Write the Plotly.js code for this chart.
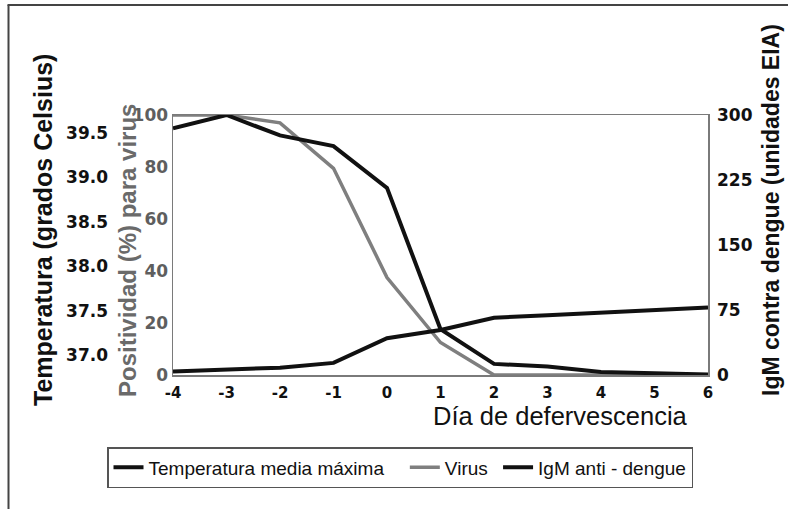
<!DOCTYPE html>
<html>
<head>
<meta charset="utf-8">
<script src="https://cdn.plot.ly/plotly-3.0.1.min.js"></script>
<style>html,body{margin:0;padding:0;background:#fff;}#chart{width:788px;height:509px;}</style>
</head>
<body>
<div id="chart"></div>
<script>
// Data
const dias = [-4, -3, -2, -1, 0, 1, 2, 3, 4, 5, 6];
const temperatura = [39.55, 39.70, 39.47, 39.35, 38.88, 37.29, 36.90, 36.87, 36.81, 36.80, 36.78];
const virus = [100, 100, 97, 79.5, 37.5, 12.5, 0, 0, 0, 0, 0];
const igm = [4, 6.5, 8.5, 14, 42.5, 52, 66, 69, 72, 75, 78];
const tempTicks = [37.0, 37.5, 38.0, 38.5, 39.0, 39.5];
const virusTicks = [0, 20, 40, 60, 80, 100];
const igmTicks = [0, 75, 150, 225, 300];
const nombres = ["Temperatura media máxima", "Virus", "IgM anti - dengue"];

const L = 20, R = 80, T = 115, B = 134, W = 788, H = 509;
const PW = W - L - R, PH = H - T - B;
const px = v => (v - L) / PW;
const py = v => (H - B - v) / PH;
const nb = n => '\u00a0'.repeat(n);

const traces = [
  {x: dias, y: temperatura, name: nombres[0] + nb(3), type: 'scatter', mode: 'lines', yaxis: 'y3',
   line: {color: '#111', width: 4}},
  {x: dias, y: virus, name: nombres[1] + nb(1), type: 'scatter', mode: 'lines', yaxis: 'y',
   line: {color: '#7f7f7f', width: 3.5}},
  {x: dias, y: igm, name: nombres[2], type: 'scatter', mode: 'lines', yaxis: 'y2',
   line: {color: '#111', width: 4}}
];

const axisLine = '#7a7a7a';
const layout = {
  width: W, height: H,
  margin: {l: L, r: R, t: T, b: B},
  paper_bgcolor: '#fff', plot_bgcolor: '#fff',
  showlegend: true,
  font: {family: 'Liberation Sans, Arial, sans-serif', color: '#111'},
  xaxis: {
    domain: [px(173), 1], range: [-4, 6], tickvals: dias, ticktext: dias.map(String),
    showgrid: false, zeroline: false, showline: true, mirror: true, linecolor: axisLine, linewidth: 1.5,
    ticks: '', ticklabelstandoff: 3,
    tickfont: {family: 'DejaVu Sans', size: 15, color: '#111', weight: 'bold'}
  },
  yaxis: {
    range: [0, 100], tickvals: virusTicks, showgrid: false, zeroline: false,
    showline: true, mirror: true, linecolor: axisLine, linewidth: 1.5, ticks: '',
    ticklabelstandoff: 0,
    tickfont: {family: 'DejaVu Sans', size: 17, color: '#5e5e5e', weight: 'bold'}
  },
  yaxis2: {
    overlaying: 'y', side: 'right', anchor: 'x', range: [0, 300], tickvals: igmTicks,
    showgrid: false, zeroline: false, showline: false, ticks: '', ticklabelstandoff: 8,
    tickfont: {family: 'DejaVu Sans', size: 17, color: '#111', weight: 'bold'}
  },
  yaxis3: {
    overlaying: 'y', side: 'left', anchor: 'free', position: px(108),
    range: [36.775, 39.70], tickvals: tempTicks, tickformat: '.1f',
    showgrid: false, zeroline: false, showline: false, ticks: '',
    tickfont: {family: 'DejaVu Sans', size: 17, color: '#111', weight: 'bold'}
  },
  legend: {
    orientation: 'h', x: px(107), xanchor: 'left', y: py(447), yanchor: 'top',
    bordercolor: '#555', borderwidth: 1.5, bgcolor: '#fff',
    font: {family: 'Liberation Sans, Arial, sans-serif', size: 19, color: '#111'},
    itemwidth: 30, tracegroupgap: 0
  },
  annotations: [
    {text: 'Temperatura (grados Celsius)', xref: 'paper', yref: 'paper', x: px(43), y: py(230),
     textangle: -90, showarrow: false, xanchor: 'center', yanchor: 'middle',
     font: {family: 'Liberation Sans, Arial, sans-serif', size: 25, color: '#111', weight: 'bold'}},
    {text: 'Positividad (%) para virus', xref: 'paper', yref: 'paper', x: px(128), y: py(251),
     textangle: -90, showarrow: false, xanchor: 'center', yanchor: 'middle',
     font: {family: 'Liberation Sans, Arial, sans-serif', size: 24, color: '#6a6a6a', weight: 'bold'}},
    {text: 'IgM contra dengue (unidades EIA)', xref: 'paper', yref: 'paper', x: px(771), y: py(210),
     textangle: -90, showarrow: false, xanchor: 'center', yanchor: 'middle',
     font: {family: 'Liberation Sans, Arial, sans-serif', size: 23, color: '#111', weight: 'bold'}},
    {text: 'Día de defervescencia', xref: 'paper', yref: 'paper', x: px(560), y: py(416),
     showarrow: false, xanchor: 'center', yanchor: 'middle',
     font: {family: 'Liberation Sans, Arial, sans-serif', size: 25.5, color: '#111'}}
  ],
  shapes: [
    {type: 'line', xref: 'paper', yref: 'paper', x0: px(8.5), x1: px(8.5), y0: py(5), y1: py(512),
     line: {color: '#444', width: 2}},
    {type: 'line', xref: 'paper', yref: 'paper', x0: px(7.5), x1: px(790), y0: py(5), y1: py(5),
     line: {color: '#444', width: 2}}
  ]
};

Plotly.newPlot('chart', traces, layout, {displayModeBar: false, staticPlot: true});
</script>
</body>
</html>
